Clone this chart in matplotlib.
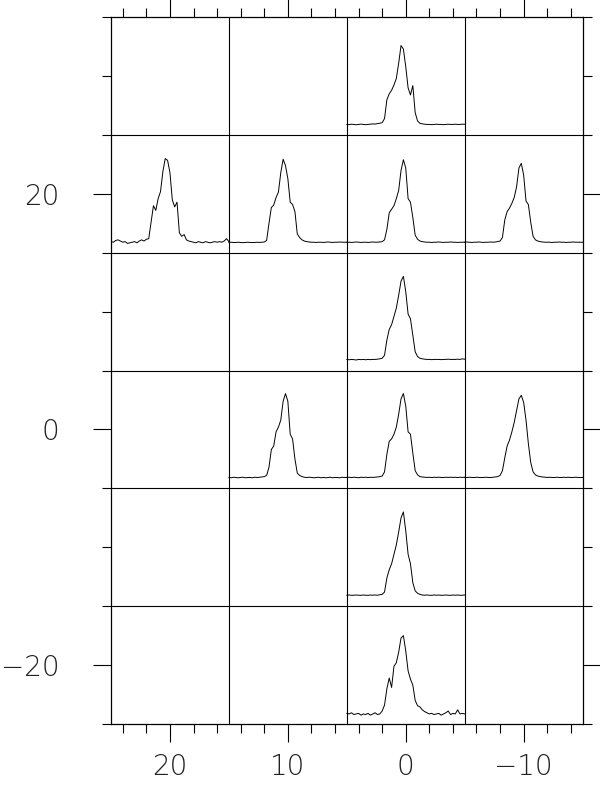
import numpy as np
import matplotlib
matplotlib.use("Agg")
import matplotlib.pyplot as plt
from matplotlib.ticker import FixedLocator, MultipleLocator

# map grid: cell centres (x, y) of the spectra, cells are 10 x 10
cell_size = 10
positions = [(0, 30), (20, 20), (10, 20), (0, 20), (-10, 20), (0, 10),
             (10, 0), (0, 0), (-10, 0), (0, -10), (0, -20)]

# channel offsets across a cell, left to right (data units)
n_chan = 51

# spectrum heights above the cell bottom (data units), left to right
sp_0_30 = [0.9, 0.88, 0.92, 0.9, 0.87, 0.9, 0.93, 0.9, 0.88, 0.9, 0.92, 0.95, 0.93, 0.97, 1.0,
           1.05, 1.4, 3.0, 3.5, 3.8, 4.25, 4.8, 6.1, 7.6, 7.3, 5.8, 4.0, 3.4, 4.2, 1.9, 1.2, 1.0,
           0.95, 0.92, 0.9, 0.9, 0.88, 0.9, 0.92, 0.9, 0.9, 0.88, 0.9, 0.92, 0.9, 0.9, 0.92, 0.9,
           0.9, 0.92, 0.92]
sp_20_20 = [0.95, 0.9, 1.05, 1.1, 1.0, 0.9, 0.95, 0.8, 0.85, 0.9, 0.95, 0.85, 1.0, 1.1, 1.0,
            1.15, 1.2, 2.6, 4.0, 3.6, 4.6, 5.2, 6.9, 8.0, 7.85, 6.8, 4.5, 3.9, 4.3, 1.7, 1.4,
            1.55, 1.1, 1.0, 0.95, 0.9, 0.85, 0.95, 0.9, 0.85, 0.95, 0.9, 0.85, 0.9, 0.95, 0.9,
            0.95, 0.9, 1.0, 1.2, 0.95]
sp_10_20 = [0.88, 0.9, 0.87, 0.88, 0.9, 0.88, 0.86, 0.88, 0.9, 0.88, 0.87, 0.88, 0.9, 0.88, 0.9,
            0.92, 1.05, 2.5, 3.85, 4.05, 4.7, 5.15, 6.8, 7.95, 7.4, 6.3, 4.3, 4.1, 3.5, 1.6, 1.3,
            1.1, 1.0, 0.95, 0.92, 0.9, 0.9, 0.88, 0.9, 0.9, 0.88, 0.9, 0.92, 0.9, 0.88, 0.9, 0.9,
            0.92, 0.9, 0.9, 0.9]
sp_0_20 = [0.9, 0.9, 0.88, 0.9, 0.92, 0.9, 0.88, 0.9, 0.9, 0.88, 0.9, 0.92, 0.9, 0.9, 0.92,
           0.95, 1.1, 2.0, 3.4, 3.7, 4.0, 4.6, 5.3, 7.0, 7.9, 7.2, 4.6, 4.3, 3.0, 1.5, 1.15,
           1.0, 0.95, 0.92, 0.9, 0.9, 0.88, 0.9, 0.9, 0.92, 0.9, 0.88, 0.9, 0.9, 0.92, 0.9, 0.9,
           0.88, 0.9, 0.9, 0.9]
sp_m10_20 = [0.9, 0.92, 0.9, 0.88, 0.9, 0.9, 0.92, 0.9, 0.88, 0.9, 0.9, 0.92, 0.9, 0.92, 0.95,
             1.0, 1.3, 2.8, 3.5, 3.8, 4.2, 4.7, 5.6, 7.2, 7.6, 6.6, 4.4, 4.1, 2.6, 1.4, 1.1,
             1.0, 0.95, 0.92, 0.9, 0.9, 0.9, 0.88, 0.9, 0.9, 0.92, 0.9, 0.9, 0.88, 0.9, 0.9,
             0.92, 0.9, 0.9, 0.9, 0.9]
sp_0_10 = [0.95, 0.92, 0.95, 0.93, 0.9, 0.95, 0.93, 0.95, 0.92, 0.95, 0.93, 0.95, 0.95, 0.97, 1.0,
           1.05, 1.3, 2.6, 3.5, 3.9, 4.6, 5.3, 6.4, 7.6, 8.0, 6.7, 4.8, 4.4, 3.0, 1.6, 1.2,
           1.05, 1.0, 0.97, 0.95, 0.95, 0.93, 0.95, 0.95, 0.95, 0.93, 0.95, 0.95, 0.97, 0.95,
           0.95, 0.95, 0.97, 0.95, 1.0, 0.97]
sp_10_0 = [0.93, 0.9, 0.95, 0.92, 0.9, 0.93, 0.95, 0.9, 0.92, 0.93, 0.9, 0.95, 0.92, 0.95, 0.97,
           1.0, 1.1, 1.8, 3.3, 3.6, 4.8, 5.2, 5.8, 7.4, 8.05, 7.4, 4.6, 4.2, 2.5, 1.3, 1.1,
           1.0, 0.95, 0.92, 0.95, 0.93, 0.9, 0.92, 0.95, 0.9, 0.93, 0.9, 0.92, 0.95, 0.9, 0.93,
           0.92, 0.9, 0.95, 0.92, 0.93]
sp_0_0 = [0.93, 0.95, 0.92, 0.95, 0.93, 0.9, 0.95, 0.93, 0.95, 0.92, 0.95, 0.93, 0.95, 0.97, 1.0,
          1.05, 1.4, 2.9, 4.0, 4.2, 4.6, 5.2, 6.3, 7.6, 8.05, 7.0, 4.8, 4.6, 3.0, 1.5, 1.15,
          1.0, 0.97, 0.95, 0.93, 0.95, 0.92, 0.95, 0.93, 0.95, 0.93, 0.92, 0.95, 0.93, 0.95,
          0.93, 0.95, 0.92, 0.95, 0.93, 0.95]
sp_m10_0 = [0.93, 0.92, 0.95, 0.93, 0.92, 0.95, 0.93, 0.92, 0.93, 0.95, 0.93, 0.92, 0.95, 0.97, 1.0,
            1.1, 1.5, 2.6, 3.6, 4.1, 4.8, 5.6, 6.6, 7.6, 7.9, 7.3, 5.8, 3.8, 2.2, 1.4, 1.15,
            1.05, 1.0, 0.97, 0.95, 0.93, 0.95, 0.93, 0.92, 0.95, 0.93, 0.92, 0.95, 0.93, 0.95,
            0.92, 0.93, 0.95, 0.93, 0.92, 0.93]
sp_0_m10 = [0.93, 0.95, 0.92, 0.93, 0.95, 0.93, 0.92, 0.95, 0.93, 0.92, 0.95, 0.93, 0.95, 0.93, 0.97,
            1.0, 1.2, 2.4, 3.1, 3.6, 4.4, 5.2, 6.3, 7.5, 8.0, 6.4, 4.4, 3.6, 2.0, 1.3, 1.1,
            1.0, 0.95, 0.93, 0.95, 0.93, 0.92, 0.95, 0.93, 0.95, 0.92, 0.93, 0.95, 0.93, 0.92,
            0.95, 0.93, 0.95, 0.92, 0.93, 0.95]
sp_0_m20 = [0.9, 0.85, 0.95, 0.8, 0.85, 0.9, 0.75, 0.85, 0.8, 0.9, 0.75, 0.85, 0.95, 0.8, 0.85,
            1.1, 1.6, 3.0, 3.9, 3.1, 4.9, 5.2, 6.1, 7.3, 7.5, 6.2, 4.5, 3.8, 3.3, 2.0, 1.55,
            1.45, 1.2, 1.05, 0.95, 0.85, 0.9, 0.8, 0.85, 0.9, 0.75, 0.85, 0.95, 1.1, 0.8, 0.9,
            0.85, 1.2, 0.85, 0.9, 0.85]

spectra = [sp_0_30, sp_20_20, sp_10_20, sp_0_20, sp_m10_20, sp_0_10,
           sp_10_0, sp_0_0, sp_m10_0, sp_0_m10, sp_0_m20]

x_major = [20, 10, 0, -10]
y_major = [20, 0, -20]
x_cells = [15, 5, -5]
y_cells = [25, 15, 5, -5, -15]

fig = plt.figure(figsize=(6, 8.02), dpi=100)
ax = fig.add_axes([0.185, 0.0973, 0.786, 0.8812])
ax.set_xlim(25, -15)
ax.set_ylim(-25, 35)

for xc in x_cells:
    ax.axvline(xc, color='black', lw=0.8)
for yc in y_cells:
    ax.axhline(yc, color='black', lw=0.8)

offs = np.arange(n_chan) * cell_size / (n_chan - 1)
for (cx, cy), sp in zip(positions, spectra):
    ax.plot(cx + cell_size / 2 - offs, cy - cell_size / 2 + np.array(sp),
            color='black', lw=0.7)

for s in ax.spines.values():
    s.set_linewidth(0.9)

ax.xaxis.set_major_locator(FixedLocator(x_major))
ax.xaxis.set_minor_locator(MultipleLocator(2))
ax.yaxis.set_major_locator(FixedLocator(y_major))
ax.yaxis.set_minor_locator(MultipleLocator(5))
ax.tick_params(which='both', direction='out', top=True, right=True, width=0.8)
ax.tick_params(which='major', length=13)
ax.tick_params(which='minor', length=6.5)
ax.tick_params(axis='x', which='major', pad=8, labelsize=20, labelcolor='#222222')
ax.tick_params(axis='y', which='major', pad=24, labelsize=20, labelcolor='#222222')
for lab in ax.get_xticklabels() + ax.get_yticklabels():
    lab.set_fontweight('light')

fig.savefig('out.png', dpi=100)
